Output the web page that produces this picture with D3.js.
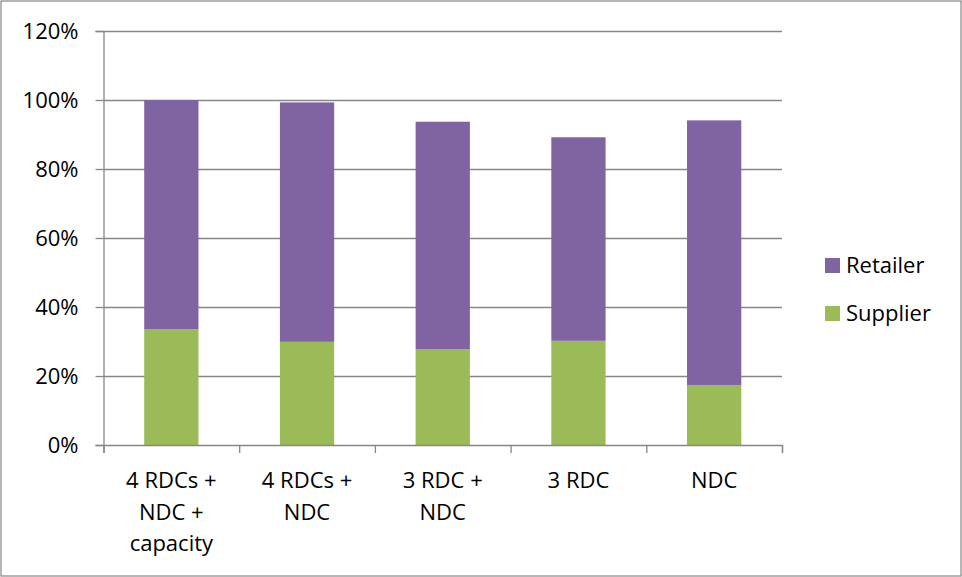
<!DOCTYPE html>
<html>
<head>
<meta charset="utf-8">
<script src="https://cdn.jsdelivr.net/npm/d3@7"></script>
<style>
  html, body { margin: 0; padding: 0; background: #fff; }
  svg { display: block; }
  text { font-family: "Open Sans", "Liberation Sans", sans-serif; fill: #000; }
</style>
</head>
<body>
<svg id="chart" width="962" height="577"></svg>
<script>
// Share of cost per network scenario (percent)
const categories = [
  ["4 RDCs +", "NDC +", "capacity"],
  ["4 RDCs +", "NDC"],
  ["3 RDC +", "NDC"],
  ["3 RDC"],
  ["NDC"]
];
const supplier = [33.6, 29.9, 27.7, 30.2, 17.4];
const retailer = [66.4, 69.4, 66.0, 59.0, 76.7];
const seriesNames = ["Supplier", "Retailer"];
const seriesColors = ["#9BBB59", "#8064A2"];
const yTicks = [0, 20, 40, 60, 80, 100, 120];

const W = 962, H = 577;
const plot = { left: 103.5, right: 782, top: 31, bottom: 445 };
const svg = d3.select("#chart");
const gridColor = "#868686";

// Outer frame
svg.append("rect")
  .attr("x", 1).attr("y", 1).attr("width", W - 2).attr("height", H - 2)
  .attr("fill", "#fff").attr("stroke", gridColor).attr("stroke-width", 1.2);

const keys = categories.map((c, i) => i);
const x = d3.scaleBand().domain(keys).range([plot.left, plot.right])
  .paddingInner(0.6).paddingOuter(0.3);
const xTickScale = d3.scaleLinear().domain([0, categories.length]).range([plot.left, plot.right]);
const y = d3.scaleLinear().domain([0, 120]).range([plot.bottom, plot.top]);

// Horizontal gridlines
svg.append("g").selectAll("line").data(yTicks.filter(t => t > 0)).join("line")
  .attr("x1", plot.left).attr("x2", plot.right)
  .attr("y1", d => Math.round(y(d)) + 0.5).attr("y2", d => Math.round(y(d)) + 0.5)
  .attr("stroke", gridColor).attr("stroke-width", 1.3);

// Stacked bars
const rows = keys.map(i => ({ i, Supplier: supplier[i], Retailer: retailer[i] }));
const stack = d3.stack().keys(seriesNames)(rows);
svg.append("g").selectAll("g").data(stack).join("g")
  .attr("fill", (d, k) => seriesColors[k])
  .selectAll("rect").data(d => d).join("rect")
  .attr("x", d => x(d.data.i))
  .attr("width", x.bandwidth())
  .attr("y", d => y(d[1]))
  .attr("height", d => y(d[0]) - y(d[1]));

// Y axis
const yAxis = d3.axisLeft(y).tickValues(yTicks).tickFormat(d => d + "%")
  .tickSize(8).tickPadding(17);
const gy = svg.append("g").attr("transform", `translate(${plot.left},0)`).call(yAxis);
gy.select(".domain").attr("stroke", gridColor).attr("stroke-width", 1.3);
gy.selectAll(".tick line").attr("stroke", gridColor).attr("stroke-width", 1.3);
gy.selectAll(".tick text").attr("font-size", 22).attr("fill", "#000")
  .attr("font-family", "'Open Sans', sans-serif");

// X axis baseline and category separators
const xAxis = d3.axisBottom(xTickScale).tickValues(d3.range(categories.length + 1))
  .tickSize(8).tickFormat("");
const gx = svg.append("g").attr("transform", `translate(0,${plot.bottom})`).call(xAxis);
gx.select(".domain").attr("stroke", gridColor).attr("stroke-width", 1.3);
gx.selectAll(".tick line").attr("stroke", gridColor).attr("stroke-width", 1.3);

// Category labels (multi-line)
const lab = svg.append("g").selectAll("text").data(categories).join("text")
  .attr("text-anchor", "middle").attr("font-size", 22)
  .attr("x", (d, i) => x(i) + x.bandwidth() / 2)
  .attr("y", 488);
lab.selectAll("tspan").data(d => d).join("tspan")
  .attr("x", function () { return this.parentNode.getAttribute("x"); })
  .attr("dy", (d, j) => j === 0 ? 0 : 31.5)
  .text(d => d);

// Legend (Retailer above Supplier)
const legend = [
  { name: "Retailer", color: seriesColors[1], y: 273 },
  { name: "Supplier", color: seriesColors[0], y: 321 }
];
const lg = svg.append("g").selectAll("g").data(legend).join("g");
lg.append("rect").attr("x", 825).attr("y", d => d.y - 15)
  .attr("width", 15).attr("height", 15).attr("fill", d => d.color);
lg.append("text").attr("x", 846).attr("y", d => d.y)
  .attr("font-size", 22).text(d => d.name);
</script>
</body>
</html>
